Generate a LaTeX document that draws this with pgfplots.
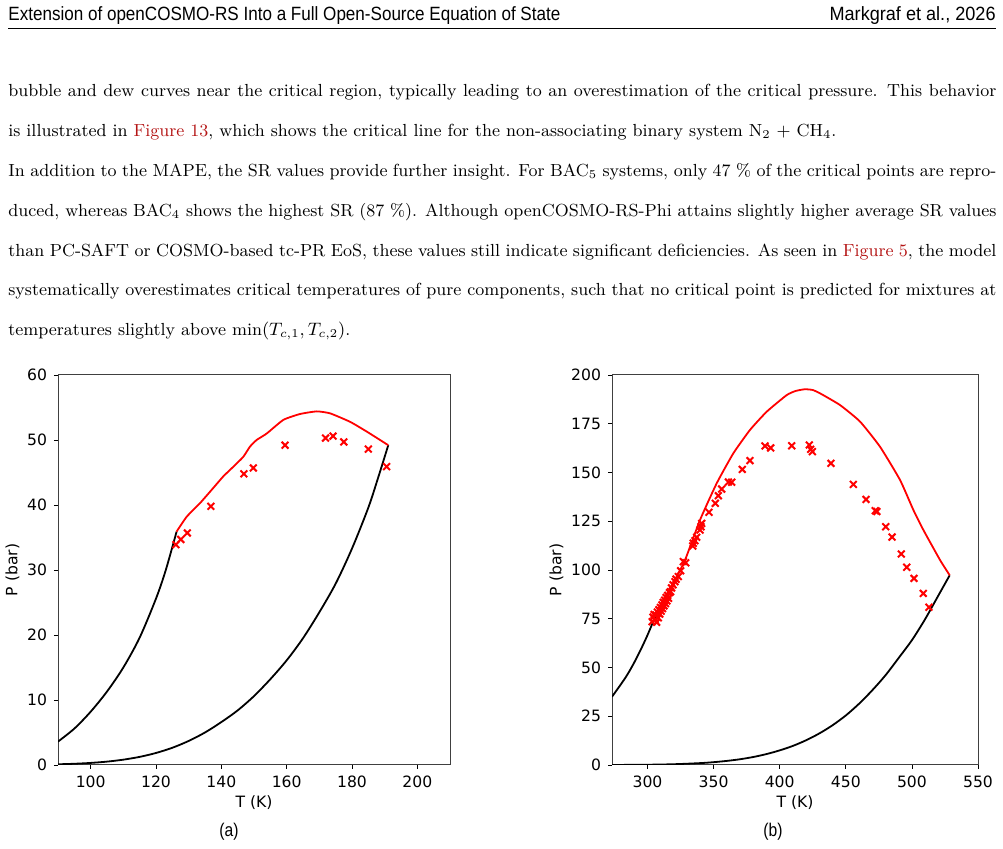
\documentclass[border=0pt]{standalone}
\usepackage{fontspec}
\usepackage{pgfplots}
\usepackage{graphicx}
\pgfplotsset{compat=1.18}
\newfontfamily\dejavu{DejaVu Sans}
\newfontfamily\headsans{Liberation Sans}
\definecolor{linkred}{RGB}{180,20,20}

% phase envelope, N2 + CH4
\pgfplotstableread{
T P
90 3.6
95 5.6
100 8.2
105 11.3
110 15.0
115 19.6
120 25.6
123 30.0
126.3 35.9
}\nitrogen
\pgfplotstableread{
T P
90 0.11
95 0.19
100 0.32
105 0.52
110 0.82
115 1.25
120 1.85
125 2.65
130 3.7
135 5.0
140 6.6
145 8.4
150 10.6
155 13.2
160 16.1
165 19.5
170 23.5
175 27.9
180 33.3
185 39.6
188 44.2
191.1 49.2
}\methane
\pgfplotstableread{
T P
126.3 35.9
129.4 38.2
133.5 40.3
137.5 42.6
140.6 44.4
143.7 45.9
146.7 47.4
148.8 49.0
150.8 50.0
153.9 51.0
159.0 53.1
164.1 54.0
169.2 54.4
173.3 54.1
179.4 52.8
184.5 51.3
191.1 49.2
}\critA
\pgfplotstableread{
T P
126.1 33.9
127.6 34.7
129.6 35.7
136.8 39.8
146.9 44.8
149.8 45.7
159.5 49.2
171.9 50.3
174.2 50.6
177.5 49.7
185.0 48.6
190.6 45.9
}\expA

% phase envelope, second system
\pgfplotstableread{
T P
273.15 35.0
280 41.5
285 46.6
290 52.6
295 59.3
300 66.6
305 74.6
310.7 82.9
}\lightcomp
\pgfplotstableread{
T P
273.15 0.02
280 0.04
300 0.14
320 0.4
340 0.97
350 1.45
360 2.1
370 2.95
380 4.1
390 5.6
400 7.5
410 9.8
420 12.7
430 16.2
440 20.4
450 25.4
460 31.4
470 38.3
480 46.0
490 54.9
500 64.0
510 74.8
520 86.9
528.6 97.3
}\heavycomp
\pgfplotstableread{
T P
310.7 82.9
315 88.0
320 94.0
328.4 105.1
339.7 125.6
352.3 144.4
364.9 159.8
377.5 171.8
390.2 181.2
405.3 189.7
412.0 191.8
419.1 192.7
425.0 192.3
430.5 190.6
445.6 184.6
460.8 176.1
475.9 163.2
491.0 146.2
501.1 130.8
508.7 120.5
521.3 105.1
528.6 97.3
}\critB
\pgfplotstableread{
T P
303.5 73.5
304.2 75.8
305.0 77.2
305.8 74.6
306.4 76.9
306.9 73.2
307.5 78.4
308.1 75.5
308.6 79.6
309.2 77.4
309.8 80.8
310.3 78.9
310.9 82.1
311.4 80.2
311.9 83.4
312.5 81.6
313.0 84.5
313.6 82.8
314.1 85.9
314.7 84.1
315.3 87.0
315.9 85.5
316.6 88.4
317.5 88.9
318.2 90.8
319.3 92.4
320.8 94.0
321.6 95.3
323.3 96.6
325.1 99.6
327.1 104.3
328.9 103.7
334.2 112.3
334.6 113.7
335.9 115.0
337.2 116.8
339.7 120.5
340.5 122.2
341.0 123.9
346.5 129.6
351.3 134.2
353.6 138.1
356.1 141.5
361.2 145.1
363.7 145.0
371.7 151.6
377.5 156.1
388.9 163.6
393.2 162.6
409.1 163.7
422.4 164.1
423.4 161.9
424.7 160.7
438.8 154.7
455.7 143.9
465.3 136.2
472.3 130.4
473.5 130.0
480.2 122.2
485.0 116.9
492.0 108.2
496.1 101.4
501.6 95.7
508.6 88.0
512.9 80.9
}\expB

\pgfplotsset{
  envelope/.style={
    scale only axis,
    anchor=south west,
    height=195pt,
    tick align=outside,
    major tick length=2pt,
    xtick pos=lower, ytick pos=left,
    tick style={black, line width=0.4pt},
    axis line style={line width=0.5pt, black!75},
    tick label style={font=\dejavu\fontsize{7.8}{9}\selectfont},
    label style={font=\dejavu\fontsize{7.8}{9}\selectfont},
    /pgf/number format/assume math mode=true,
    xlabel={T (K)}, ylabel={P (bar)},
    xlabel style={yshift=3pt},
    ylabel style={yshift=-3pt},
  },
  curve/.style={black, line width=0.9pt, no marks, smooth, tension=0.5},
  critline/.style={red, line width=0.9pt, no marks, smooth, tension=0.3},
  measured/.style={red, only marks, mark=x, mark size=2.4pt, mark options={line width=1pt}},
}

\begin{document}
\begin{tikzpicture}
\useasboundingbox (0,0) rectangle (501.5pt,-424.5pt);

% running head
\node[anchor=base west, inner sep=0] at (4pt,-10.5pt)
  {\headsans\fontsize{9.6}{11}\selectfont\resizebox{276pt}{\height}{Extension of openCOSMO-RS Into a Full Open-Source Equation of State}};
\node[anchor=base east, inner sep=0] at (498pt,-10.5pt)
  {\headsans\fontsize{9.6}{11}\selectfont\resizebox{83pt}{\height}{Markgraf et al., 2026}};
\draw[line width=0.5pt] (4pt,-14.5pt) -- (498pt,-14.5pt);

% body text
\begin{scope}[every node/.style={anchor=base west, inner sep=0, font=\fontsize{8.75}{11}\selectfont}]
\node at (4pt,-48.5pt) {\makebox[494pt][s]{bubble and dew curves near the critical region, typically leading to an overestimation of the critical pressure. This behavior}};
\node at (4pt,-68.5pt) {is illustrated in \textcolor{linkred}{Figure 13}, which shows the critical line for the non-associating binary system N$_2$ + CH$_4$.};
\node at (4pt,-88.3pt) {\makebox[494pt][s]{In addition to the MAPE, the SR values provide further insight. For BAC$_5$ systems, only 47 \% of the critical points are repro-}};
\node at (4pt,-108.2pt) {\makebox[494pt][s]{duced, whereas BAC$_4$ shows the highest SR (87 \%). Although openCOSMO-RS-Phi attains slightly higher average SR values}};
\node at (4pt,-128.1pt) {\makebox[494pt][s]{than PC-SAFT or COSMO-based tc-PR EoS, these values still indicate significant deficiencies. As seen in \textcolor{linkred}{Figure 5}, the model}};
\node at (4pt,-148pt) {\makebox[494pt][s]{systematically overestimates critical temperatures of pure components, such that no critical point is predicted for mixtures at}};
\node at (4pt,-168pt) {temperatures slightly above $\min(T_{c,1},T_{c,2})$.};
\end{scope}

% (a)
\begin{axis}[envelope, at={(29pt,-382.5pt)}, width=196pt,
  xmin=90, xmax=210, ymin=0, ymax=60,
  xtick={100,120,...,200}, ytick={0,10,...,60}]
\addplot[curve] table[x=T,y=P] {\nitrogen};
\addplot[curve] table[x=T,y=P] {\methane};
\addplot[critline] table[x=T,y=P] {\critA};
\addplot[measured] table[x=T,y=P] {\expA};
\end{axis}

% (b)
\begin{axis}[envelope, at={(306pt,-382.5pt)}, width=183pt,
  xmin=273.15, xmax=550, ymin=0, ymax=200,
  xtick={300,350,...,550}, ytick={0,25,...,200}]
\addplot[curve] table[x=T,y=P] {\lightcomp};
\addplot[curve] table[x=T,y=P] {\heavycomp};
\addplot[critline] table[x=T,y=P] {\critB};
\addplot[measured] table[x=T,y=P] {\expB};
\end{axis}

\node[font=\headsans\fontsize{9.2}{10}\selectfont] at (114.5pt,-416pt) {\scalebox{0.85}[1]{(a)}};
\node[font=\headsans\fontsize{9.2}{10}\selectfont] at (386.5pt,-416pt) {\scalebox{0.85}[1]{(b)}};
\end{tikzpicture}
\end{document}
